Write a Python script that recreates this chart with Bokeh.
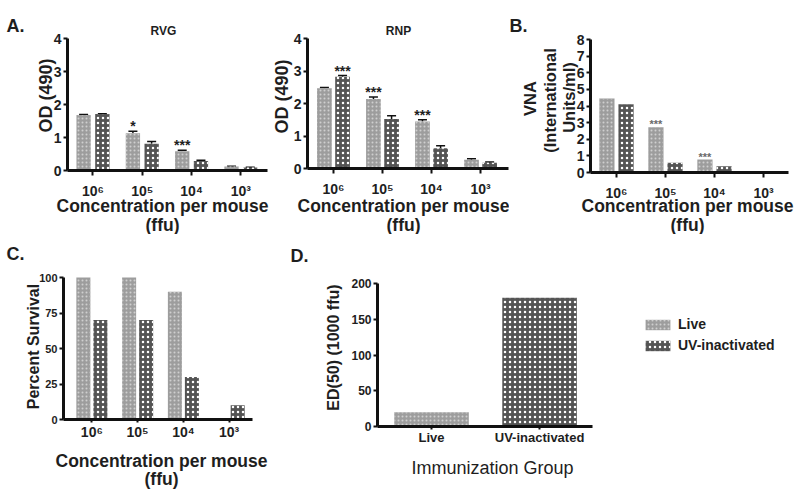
import numpy as np
from bokeh.plotting import figure
from bokeh.models import (Range1d, FixedTicker, Whisker, TeeHead, Label,
                          ColumnDataSource, Legend, LegendItem)
from bokeh.layouts import row, column
from bokeh.embed import file_html
from bokeh.resources import INLINE
from bokeh.core.properties import value

# ---------------- data ----------------
conc_labels = ["10⁶", "10⁵", "10⁴", "10³"]

rvg_live = [1.68, 1.13, 0.58, 0.12]
rvg_live_err = [0.02, 0.06, 0.03, 0.01]
rvg_uv = [1.71, 0.81, 0.29, 0.09]
rvg_uv_err = [0.01, 0.07, 0.02, 0.01]
rvg_live_sig = ["", "*", "***", ""]
rvg_uv_sig = ["", "", "", ""]

rnp_live = [2.47, 2.14, 1.45, 0.27]
rnp_live_err = [0.02, 0.06, 0.05, 0.03]
rnp_uv = [2.82, 1.52, 0.62, 0.18]
rnp_uv_err = [0.04, 0.10, 0.08, 0.02]
rnp_live_sig = ["", "***", "***", ""]
rnp_uv_sig = ["***", "", "", ""]

vna_live = [4.45, 2.72, 0.78, 0.0]
vna_uv = [4.10, 0.58, 0.38, 0.0]
vna_live_sig = ["", "***", "***", ""]
vna_uv_sig = ["", "", "", ""]

surv_live = [100, 100, 90, 0]
surv_uv = [70, 70, 30, 10]

groups = ["Live", "UV-inactivated"]
ed50 = [20, 180]

# ---------------- style ----------------
FONT = "Liberation Sans"
TXT = "#1e1e1e"
AX = "#111111"
LIVE_FILL, LIVE_HATCH = "#9d9d9d", "#cfcfcf"
UV_FILL, UV_HATCH = "#545454", "#ffffff"


def panel(fig_box, axis_box, xdata, ydata, yticks, xticks, xlabels,
          xlab_size="14px", ylab_size="14px", xlab_bold=True,
          xtick_out=5, xstand=7):
    """Figure whose frame fills the whole canvas; axes sit at fixed data
    locations so that every text can be placed freely."""
    fl, ft, fr, fb = fig_box
    al, at, ar, ab = axis_box
    x0, x1 = xdata
    y0, y1 = ydata
    sx = (ar - al) / (x1 - x0)
    sy = (ab - at) / (y1 - y0)
    xr = Range1d(x0 - (al - fl) / sx, x1 + (fr - ar) / sx)
    yr = Range1d(y0 - (fb - ab) / sy, y1 + (at - ft) / sy)
    p = figure(width=fr - fl, height=fb - ft, x_range=xr, y_range=yr,
               output_backend="svg", toolbar_location=None, title=None,
               min_border=0)
    p.outline_line_color = None
    p.grid.visible = False
    for ax in (p.xaxis[0], p.yaxis[0]):
        ax.axis_line_width = 3
        ax.axis_line_color = AX
        ax.major_tick_line_width = 2
        ax.major_tick_line_color = AX
        ax.major_tick_in = 0
        ax.minor_tick_line_color = None
        ax.major_label_text_color = TXT
    p.xaxis.fixed_location = y0
    p.xaxis.bounds = (x0, x1)
    p.yaxis.fixed_location = x0
    p.yaxis.bounds = (y0, y1)
    p.yaxis.ticker = FixedTicker(ticks=yticks)
    p.yaxis.major_tick_out = 4
    p.yaxis.major_label_standoff = 2
    p.yaxis.major_label_text_font = FONT
    p.yaxis.major_label_text_font_size = ylab_size
    p.yaxis.major_label_text_font_style = "bold"
    p.xaxis.ticker = FixedTicker(ticks=xticks)
    p.xaxis.major_label_overrides = {t: s for t, s in zip(xticks, xlabels)}
    p.xaxis.major_tick_out = xtick_out
    p.xaxis.major_label_standoff = xstand
    p.xaxis.major_label_text_font = FONT
    p.xaxis.major_label_text_font_size = xlab_size
    p.xaxis.major_label_text_font_style = "bold" if xlab_bold else "normal"
    p._box = fig_box
    return p


def lab(p, rx, ry, text, size, angle=0.0, align="center", baseline="middle",
        bold=True, color=TXT):
    fl, ft, fr, fb = p._box
    p.add_layout(Label(x=rx - fl, y=fb - ry, x_units="screen", y_units="screen",
                       text=text, angle=angle, text_align=align,
                       text_baseline=baseline, text_font=FONT,
                       text_font_size=size, text_color=color,
                       text_font_style="bold" if bold else "normal"))


def bars(p, xs, vals, fill, hatch_color, width, hatch_scale):
    src = ColumnDataSource(dict(x=xs, top=vals))
    return p.vbar(x="x", top="top", bottom=0, width=width, source=src,
                  fill_color=fill, line_color=None,
                  hatch_pattern=".", hatch_color=hatch_color,
                  hatch_scale=hatch_scale, hatch_weight=1)


def errs(p, xs, vals, err):
    v = np.asarray(vals, float)
    src = ColumnDataSource(dict(x=xs, lo=v, hi=v + np.asarray(err, float)))
    p.add_layout(Whisker(source=src, base="x", lower="lo", upper="hi",
                         dimension="height", line_width=1.5, line_color=AX,
                         upper_head=TeeHead(size=9, line_width=1.5, line_color=AX),
                         lower_head=None))


def stars(p, xs, tops, sig, size, color):
    src = ColumnDataSource(dict(x=xs, y=tops, t=sig))
    p.text(x="x", y="y", text="t", source=src, text_align="center",
           text_baseline="bottom", text_font=value(FONT),
           text_font_size=size, text_font_style="bold", text_color=color,
           y_offset=3)


def grouped(p, live, uv, off, width, live_err=None, uv_err=None,
            live_sig=None, uv_sig=None, star_size="14px", star_color=TXT):
    idx = np.arange(len(live), dtype=float)
    xl, xu = idx - off, idx + off
    rl = bars(p, xl, live, LIVE_FILL, LIVE_HATCH, width, 4)
    ru = bars(p, xu, uv, UV_FILL, UV_HATCH, width, 5)
    tl = np.asarray(live, float)
    tu = np.asarray(uv, float)
    if live_err is not None:
        errs(p, xl, live, live_err)
        errs(p, xu, uv, uv_err)
        tl = tl + np.asarray(live_err)
        tu = tu + np.asarray(uv_err)
    if live_sig is not None:
        stars(p, xl, tl, live_sig, star_size, star_color)
    if uv_sig is not None:
        stars(p, xu, tu, uv_sig, star_size, star_color)
    return rl, ru


idx4 = [0, 1, 2, 3]
XT1, XT2 = "Concentration per mouse", "(ffu)"
ROT = np.pi / 2

# ---------------- A: RVG ----------------
pa1 = panel((0, 0, 270, 234), (67, 38, 267, 170), (-0.517, 3.54), (0, 4),
            [0, 1, 2, 3, 4], idx4, conc_labels)
grouped(pa1, rvg_live, rvg_uv, 0.19, 0.29, rvg_live_err, rvg_uv_err,
        rvg_live_sig, rvg_uv_sig)
lab(pa1, 6, 25, "A.", "18px", align="left", baseline="alphabetic")
lab(pa1, 163, 30, "RVG", "12px")
lab(pa1, 45, 95, "OD (490)", "18px", angle=ROT)
lab(pa1, 162, 205, XT1, "17.5px")
lab(pa1, 162, 224, XT2, "17.5px")

# ---------------- A: RNP ----------------
pa2 = panel((270, 0, 509, 234), (307, 38, 508, 168), (-0.53, 3.57), (0, 4),
            [0, 1, 2, 3, 4], idx4, conc_labels)
grouped(pa2, rnp_live, rnp_uv, 0.185, 0.30, rnp_live_err, rnp_uv_err,
        rnp_live_sig, rnp_uv_sig)
lab(pa2, 398, 30, "RNP", "12px")
lab(pa2, 281, 96, "OD (490)", "18px", angle=ROT)
lab(pa2, 403, 205, XT1, "17.5px")
lab(pa2, 403, 224, XT2, "17.5px")

# ---------------- B: VNA ----------------
pb = panel((509, 0, 798, 234), (590, 39, 788, 172), (-0.53, 3.51), (0, 8),
           [0, 1, 2, 3, 4, 5, 6, 7, 8], idx4, conc_labels)
grouped(pb, vna_live, vna_uv, 0.195, 0.31, live_sig=vna_live_sig,
        uv_sig=vna_uv_sig, star_size="11px", star_color="#6a6a6a")
lab(pb, 509, 25, "B.", "18px", align="left", baseline="alphabetic")
lab(pb, 529, 98, "VNA", "16.5px", angle=ROT)
lab(pb, 549, 100, "(International", "16.5px", angle=ROT)
lab(pb, 568, 97, "Units/ml)", "16.5px", angle=ROT)
lab(pb, 687, 205, XT1, "17.5px")
lab(pb, 687, 224, XT2, "17.5px")

# ---------------- C: survival ----------------
pc = panel((0, 234, 272, 492), (63, 277, 252, 419), (-0.62, 3.51), (0, 100),
           [0, 25, 50, 75, 100], idx4, conc_labels, ylab_size="11px",
           xtick_out=3, xstand=1)
grouped(pc, surv_live, surv_uv, 0.186, 0.306)
lab(pc, 6, 253, "C.", "18px", align="left", baseline="alphabetic")
lab(pc, 33, 346, "Percent Survival", "16px", angle=ROT)
lab(pc, 161, 460, XT1, "17.5px")
lab(pc, 161, 478, XT2, "17.5px")

# ---------------- D: ED50 ----------------
pd_ = panel((272, 234, 798, 492), (377, 283, 592, 426), (-0.5, 1.49), (0, 200),
            [0, 50, 100, 150, 200], [0, 1], groups, xlab_size="13px",
            ylab_size="12px", xtick_out=3, xstand=0)
xd = np.arange(len(groups), dtype=float)
rd_live = pd_.vbar(x=xd[:1], top=ed50[:1], bottom=0, width=0.69,
                   fill_color=LIVE_FILL, line_color=None, hatch_pattern=".",
                   hatch_color=LIVE_HATCH, hatch_scale=4, hatch_weight=1)
rd_uv = pd_.vbar(x=xd[1:], top=ed50[1:], bottom=0, width=0.69,
                 fill_color=UV_FILL, line_color=None, hatch_pattern=".",
                 hatch_color=UV_HATCH, hatch_scale=5, hatch_weight=1)
lab(pd_, 290, 255, "D.", "18px", align="left", baseline="alphabetic")
lab(pd_, 333, 347, "ED(50) (1000 ffu)", "16px", angle=ROT)
lab(pd_, 492, 467, "Immunization Group", "18px", bold=False)

legend = Legend(items=[LegendItem(label=groups[0], renderers=[rd_live]),
                       LegendItem(label=groups[1], renderers=[rd_uv])],
                location=(642 - 272, 492 - 353), padding=0, margin=0,
                spacing=5, glyph_width=31, glyph_height=13, label_height=13,
                label_standoff=5, border_line_color=None,
                background_fill_color=None, label_text_font=FONT,
                label_text_font_size="14px", label_text_font_style="bold",
                label_text_color=TXT)
pd_.add_layout(legend)

layout = column(row(pa1, pa2, pb), row(pc, pd_))
open("out.html", "w").write(file_html(layout, INLINE))
